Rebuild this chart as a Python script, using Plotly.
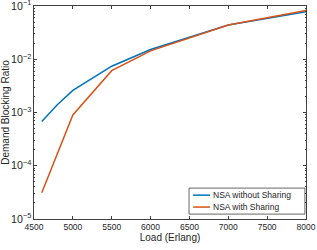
import plotly.graph_objects as go

load = [4600, 4800, 5000, 5500, 6000, 7000, 8000]
no_sharing = [6.8e-4, 1.4e-3, 2.6e-3, 7.4e-3, 0.0152, 0.0440, 0.078]
with_sharing = [3.1e-5, 1.7e-4, 9.0e-4, 6.1e-3, 0.0144, 0.0440, 0.082]
series_names = ["NSA without Sharing", "NSA with Sharing"]
series_colors = ["#0072BD", "#D95319"]

fig = go.Figure()
for vals, name, col in zip([no_sharing, with_sharing], series_names, series_colors):
    fig.add_trace(go.Scatter(x=load, y=vals, mode="lines", name=name, showlegend=False,
                             line=dict(color=col, width=1.5)))

axis_common = dict(showline=True, linecolor="#404040", linewidth=0.8, mirror="allticks",
                   ticks="inside", ticklen=3, tickcolor="#404040", showgrid=False, zeroline=False,
                   automargin=False, ticklabeloverflow="allow",
                   tickfont=dict(size=8.5, color="#262626"))
fig.update_xaxes(range=[4500, 8000], dtick=500,
                 title=dict(text="Load (Erlang)", font=dict(size=10, color="#262626"), standoff=2),
                 **axis_common)
fig.update_yaxes(type="log", range=[-5, -1], dtick=1, exponentformat="power",
                 title=dict(text="Demand Blocking Ratio", font=dict(size=10, color="#262626"), standoff=0),
                 minor=dict(ticks="inside", ticklen=1.5, tickcolor="#404040", showgrid=False),
                 **axis_common)

# MATLAB-style legend box (bottom right, inside axes)
lx0, lx1, ly0, ly1 = 0.57, 0.996, 0.023, 0.145
fig.add_shape(type="rect", xref="x domain", yref="y domain", x0=lx0, x1=lx1, y0=ly0, y1=ly1,
              line=dict(color="#404040", width=0.8), fillcolor="white", layer="above")
rows = [0.112, 0.056]
for ry, name, col in zip(rows, series_names, series_colors):
    fig.add_shape(type="line", xref="x domain", yref="y domain", x0=0.585, x1=0.647, y0=ry, y1=ry,
                  line=dict(color=col, width=1.5), layer="above")
    fig.add_annotation(xref="x domain", yref="y domain", x=0.652, y=ry, text=name, showarrow=False,
                       xanchor="left", yanchor="middle", font=dict(size=8.5, color="#262626"))

fig.update_layout(width=317, height=250, margin=dict(l=34, r=11, t=6, b=31),
                  paper_bgcolor="white", plot_bgcolor="white",
                  font=dict(family="Liberation Sans, Arial, sans-serif", size=9, color="#262626"))
fig.write_html("out.html", config={"displayModeBar": False},
               post_script="document.body.style.margin='0';document.body.style.padding='0';")
